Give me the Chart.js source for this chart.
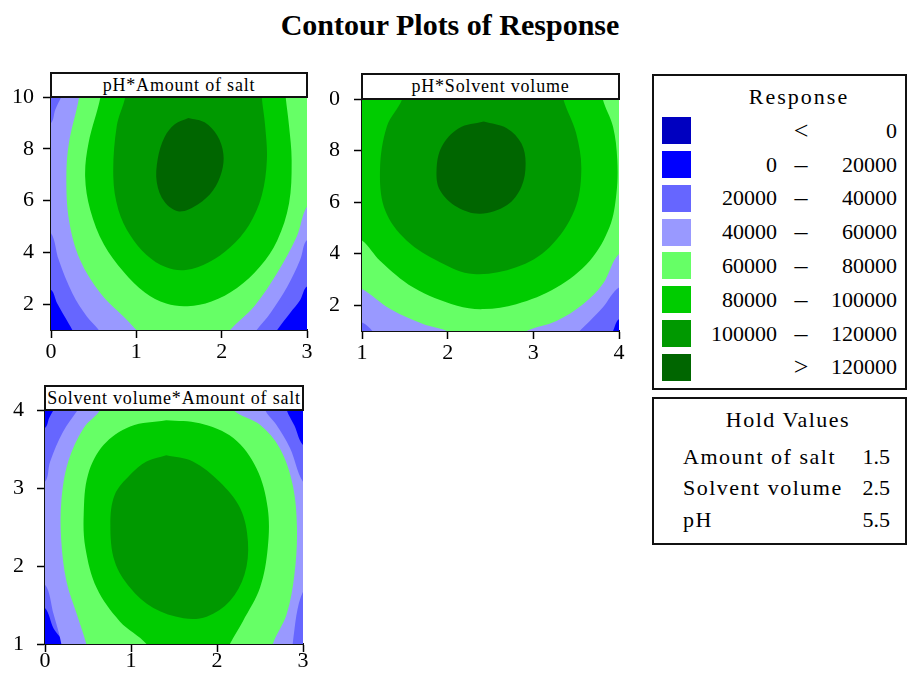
<!DOCTYPE html>
<html><head><meta charset="utf-8">
<script src="https://cdn.jsdelivr.net/npm/chart.js@4.4.1/dist/chart.umd.min.js"></script>
<style>
body{margin:0;background:#fff;}
#page{position:relative;width:916px;height:674px;overflow:hidden;font-family:"Liberation Serif","Times New Roman",serif;color:#000;}
canvas{position:absolute;}
.box{position:absolute;box-sizing:border-box;border:2px solid #111;}
.ptitle{position:absolute;box-sizing:border-box;border:2px solid #111;background:#fff;font-size:18px;line-height:22px;letter-spacing:0.8px;text-align:center;white-space:nowrap;overflow:hidden;z-index:2;}
.t{position:absolute;white-space:nowrap;font-size:22px;line-height:26px;}
.sw{position:absolute;width:29px;height:27px;}
</style></head>
<body>
<div id="page">
  <div class="t" style="left:0;width:900px;top:8px;text-align:center;font-weight:bold;font-size:30px;line-height:34px;">Contour Plots of Response</div>

  <canvas id="cSaltPh" width="330" height="300" style="left:0;top:80px;"></canvas>
  <canvas id="cSolvPh" width="310" height="300" style="left:330px;top:80px;"></canvas>
  <canvas id="cSaltSolv" width="330" height="282" style="left:0;top:392px;"></canvas>

  <div class="ptitle" style="left:50px;top:72px;width:258px;height:26px;">pH*Amount of salt</div>
  <div class="ptitle" style="left:361px;top:73px;width:259px;height:27px;">pH*Solvent volume</div>
  <div class="ptitle" style="left:44px;top:385px;width:260px;height:26px;">Solvent volume*Amount of salt</div>

  <div class="box" style="left:652px;top:74px;width:255px;height:316px;"></div>
  <div class="box" style="left:652px;top:397px;width:255px;height:148px;"></div>
  <div id="legend"></div>
</div>
<script>
// ══════════════════════════════════════════
// DATA
// ══════════════════════════════════════════

// legend bands
var BAND_COLORS=["#0000C0","#0000FF","#6666FF","#9999FF","#66FF66","#00CC00","#009900","#006600"];
var BAND_LO=["","0","20000","40000","60000","80000","100000",""];
var BAND_MID=["<","–","–","–","–","–","–",">"];
var BAND_HI=["0","20000","40000","60000","80000","100000","120000","120000"];

var HOLD_NAMES=["Amount of salt","Solvent volume","pH"];
var HOLD_VALUES=["1.5","2.5","5.5"];

// axis ticks
var SALT_TICKS=[0,1,2,3];
var SOLV_TICKS_X=[1,2,3,4];
var PH_TICKS=[2,4,6,8,10];
var SOLV_TICKS_Y=[1,2,3,4];

// contour boundaries, [x, y] in axis units
// (points past the axes close the region, they get clipped)

// pH * Amount of salt
var SP_20K=[[-0.15,10.5],[3.15,10.5],[3.15,2.6],[3.0,2.68],[2.92,2.16],[2.80,1.65],[2.65,1.0],[2.62,0.8],[0.28,0.8],[0.25,1.0],[0.17,1.46],[0.07,2.04],[0,2.55],[-0.15,2.6]];
var SP_40K=[[0.12,10.5],[3.15,10.5],[3.15,4.4],[3.0,4.48],[2.92,3.71],[2.77,2.68],[2.57,1.65],[2.41,1.0],[2.38,0.8],[0.58,0.8],[0.56,1.0],[0.42,1.52],[0.25,2.42],[0.09,3.71],[0,4.74],[-0.15,4.9],[-0.15,6.9],[-0.15,8.9],[0,9.0],[0.05,9.51],[0.12,10]];
var SP_60K=[[0.33,10.5],[0.33,10],[0.21,8.22],[0.18,6.93],[0.21,5.26],[0.34,3.71],[0.58,2.42],[0.89,1.39],[1.0,1.0],[1.05,0.8],[2.1,0.8],[2.1,1.0],[2.38,1.91],[2.65,3.2],[2.88,4.61],[3.0,5.77],[3.15,6.0],[3.15,8.0],[3.15,10.5]];
var SP_80K=[[0.58,10.5],[0.58,10],[0.44,8.22],[0.40,6.93],[0.46,5.64],[0.62,4.30],[0.85,3.25],[1.10,2.45],[1.35,2.02],[1.60,1.92],[1.88,2.10],[2.18,2.62],[2.45,3.45],[2.65,4.45],[2.79,5.9],[2.82,7.58],[2.79,8.87],[2.75,10],[2.74,10.5]];
var SP_100K=[[0.87,10.5],[0.87,10],[0.77,8.87],[0.73,6.93],[0.79,5.64],[0.93,4.65],[1.12,3.90],[1.35,3.42],[1.58,3.32],[1.85,3.62],[2.10,4.20],[2.32,5.05],[2.47,6.20],[2.53,7.58],[2.51,8.87],[2.47,10],[2.47,10.5]];
var SP_120K=[[1.61,9.19],[1.80,9.02],[1.95,8.50],[2.02,7.80],[2.00,7.10],[1.90,6.40],[1.72,5.85],[1.50,5.58],[1.33,5.95],[1.24,6.70],[1.25,7.60],[1.33,8.45],[1.45,8.95],[1.61,9.19]];

// pH * Solvent volume
var VP_20K=[[0.85,10.5],[4.15,10.5],[4.15,1.4],[4.0,1.46],[3.93,1.0],[3.9,0.8],[0.85,0.8]];
var VP_40K=[[0.85,10.5],[4.15,10.5],[4.15,2.6],[4.0,2.69],[3.81,1.91],[3.66,1.39],[3.54,1.0],[3.5,0.8],[1.12,0.8],[1.12,1.0],[1.0,1.33],[0.85,1.4]];
var VP_60K=[[0.85,10.5],[4.15,10.5],[4.15,3.9],[4.0,3.99],[3.81,2.82],[3.58,2.04],[3.27,1.39],[2.92,1.0],[2.9,0.8],[2.0,0.8],[1.99,1.0],[1.72,1.26],[1.33,1.85],[1.0,2.63],[0.85,2.7]];
var VP_80K=[[0.85,10.5],[3.81,10.5],[3.81,10],[3.93,8.93],[3.98,7.63],[3.97,6.33],[3.89,5.03],[3.66,3.73],[3.27,2.69],[2.80,2.04],[2.42,1.85],[2.11,1.98],[1.60,2.69],[1.21,3.73],[1.0,4.51],[0.85,4.6]];
var VP_100K=[[1.47,10.5],[1.47,10],[1.29,8.93],[1.21,7.24],[1.27,5.68],[1.52,4.51],[1.91,3.67],[2.30,3.21],[2.80,3.47],[3.19,4.25],[3.48,5.68],[3.56,7.24],[3.50,8.67],[3.35,10],[3.35,10.5]];
var VP_120K=[[2.42,9.13],[2.69,8.87],[2.86,8.28],[2.91,7.50],[2.86,6.59],[2.69,5.88],[2.38,5.55],[2.11,5.81],[1.91,6.46],[1.87,7.24],[1.93,8.15],[2.13,8.87],[2.42,9.13]];

// Solvent volume * Amount of salt
var SV_20K=[[0.1,4.15],[2.8,4.15],[2.81,4.0],[2.9,3.8],[3.0,3.55],[3.15,3.5],[3.15,0.85],[0.23,0.85],[0.23,1.0],[0.1,1.2],[0,1.46],[-0.15,1.5],[-0.15,3.75],[0,3.77],[0.05,3.9],[0.1,4.0]];
var SV_40K=[[0.38,4.15],[2.55,4.15],[2.56,4.0],[2.69,3.81],[2.85,3.51],[3.0,3.08],[3.15,3.0],[3.15,1.6],[3.0,1.67],[2.88,1.0],[2.9,0.85],[0.19,0.85],[0.19,1.0],[0.1,1.38],[0,1.76],[-0.15,1.7],[-0.15,3.1],[0,3.08],[0.06,3.34],[0.21,3.72],[0.38,4.0]];
var SV_60K=[[0.64,4.15],[0.64,4.0],[0.45,3.77],[0.27,3.34],[0.19,2.83],[0.19,2.31],[0.25,1.80],[0.37,1.38],[0.48,1.0],[0.5,0.85],[2.65,0.85],[2.65,1.0],[2.81,1.38],[2.90,1.89],[2.93,2.48],[2.88,3.04],[2.73,3.51],[2.50,3.81],[2.19,4.0],[2.19,4.15]];
var SV_80K=[[1.41,3.87],[1.80,3.83],[2.19,3.64],[2.46,3.25],[2.59,2.74],[2.59,2.23],[2.50,1.72],[2.30,1.29],[2.15,1.0],[2.1,0.85],[1.2,0.85],[1.18,1.0],[0.87,1.29],[0.60,1.72],[0.47,2.23],[0.45,2.66],[0.50,3.17],[0.68,3.55],[0.99,3.79],[1.41,3.87]];
var SV_100K=[[1.41,3.42],[1.72,3.34],[2.03,3.08],[2.27,2.74],[2.36,2.31],[2.32,1.89],[2.15,1.55],[1.88,1.35],[1.61,1.33],[1.26,1.46],[0.99,1.72],[0.81,2.06],[0.76,2.53],[0.81,2.91],[0.99,3.17],[1.18,3.34],[1.41,3.42]];

// ══════════════════════════════════════════
// CHARTS
// ══════════════════════════════════════════

var FONT="'Liberation Serif','Times New Roman',serif";

// fills the plot area with the lowest band shown (0 - 20000)
var baseFill={
  id:"baseFill",
  beforeDatasetsDraw:function(chart){
    var a=chart.chartArea,ctx=chart.ctx;
    ctx.save();
    ctx.fillStyle=BAND_COLORS[1];
    ctx.fillRect(a.left,a.top,a.right-a.left,a.bottom-a.top);
    ctx.restore();
  }
};

function axis(min,max,ticks,isY,lay){
  return{
    type:"linear",min:min,max:max,
    afterBuildTicks:function(s){s.ticks=ticks.map(function(v){return{value:v};});},
    afterFit:function(s){
      if(isY){s.width=lay.yw;s.paddingTop=0;s.paddingBottom=0;}
      else{s.height=lay.xh;s.paddingLeft=0;s.paddingRight=0;}
    },
    ticks:{color:"#000",font:{family:FONT,size:22},padding:isY?lay.yp:lay.xp,autoSkip:false,maxRotation:0},
    grid:{drawOnChartArea:false,drawTicks:true,tickLength:8,tickColor:"#000",tickWidth:1.5},
    border:{display:true,color:"#111",width:2}
  };
}

function contour(id,sets,xr,yr,xt,yt,lay){
  var ds=sets.map(function(s,i){
    return{
      data:s[1].map(function(p){return{x:p[0],y:p[1]};}),
      backgroundColor:BAND_COLORS[s[0]],
      borderWidth:0,pointRadius:0,
      fill:"shape",tension:0.35,
      order:20-i
    };
  });
  new Chart(document.getElementById(id),{
    type:"line",
    data:{datasets:ds},
    options:{
      responsive:false,animation:false,events:[],
      elements:{line:{capBezierPoints:false}},
      layout:{padding:{left:0,top:lay.pt,right:lay.pr,bottom:0}},
      plugins:{legend:{display:false},tooltip:{enabled:false}},
      scales:{x:axis(xr[0],xr[1],xt,false,lay),y:axis(yr[0],yr[1],yt,true,lay)}
    },
    plugins:[baseFill]
  });
}

contour("cSaltPh",[[2,SP_20K],[3,SP_40K],[4,SP_60K],[5,SP_80K],[6,SP_100K],[7,SP_120K]],
  [0,3],[1,10],SALT_TICKS,PH_TICKS,{pt:17,pr:23,yw:51,xh:50,yp:9,xp:1});
contour("cSolvPh",[[2,VP_20K],[3,VP_40K],[4,VP_60K],[5,VP_80K],[6,VP_100K],[7,VP_120K]],
  [1,4],[1,10],SOLV_TICKS_X,PH_TICKS,{pt:19,pr:21,yw:32,xh:49,yp:14,xp:1});
contour("cSaltSolv",[[2,SV_20K],[3,SV_40K],[4,SV_60K],[5,SV_80K],[6,SV_100K]],
  [0,3],[1,4],SALT_TICKS,SOLV_TICKS_Y,{pt:18,pr:27,yw:45,xh:30,yp:13,xp:-4});

// ══════════════════════════════════════════
// LEGEND + HOLD VALUES
// ══════════════════════════════════════════

function txt(s,css){
  var d=document.createElement("div");
  d.className="t";
  d.style.cssText=css;
  d.textContent=s;
  document.getElementById("legend").appendChild(d);
  return d;
}

txt("Response","left:699px;width:200px;top:84px;text-align:center;letter-spacing:2px;");
BAND_COLORS.forEach(function(c,i){
  var cy=130.7+33.8*i;
  var sw=document.createElement("div");
  sw.className="sw";
  sw.style.cssText="left:662px;top:"+(cy-13.5)+"px;background:"+c+";";
  document.getElementById("legend").appendChild(sw);
  txt(BAND_LO[i],"left:657px;width:120px;top:"+(cy-13)+"px;text-align:right;");
  txt(BAND_MID[i],"left:781px;width:40px;top:"+(cy-13)+"px;text-align:center;font-size:26px;");
  txt(BAND_HI[i],"left:797px;width:100px;top:"+(cy-13)+"px;text-align:right;");
});

txt("Hold Values","left:688px;width:200px;top:407px;text-align:center;letter-spacing:1.5px;");
HOLD_NAMES.forEach(function(n,i){
  var cy=456.7+31.7*i;
  txt(n,"left:683px;top:"+(cy-13)+"px;letter-spacing:1.5px;");
  txt(HOLD_VALUES[i],"left:830px;width:60px;top:"+(cy-13)+"px;text-align:right;");
});
</script>
</body></html>
